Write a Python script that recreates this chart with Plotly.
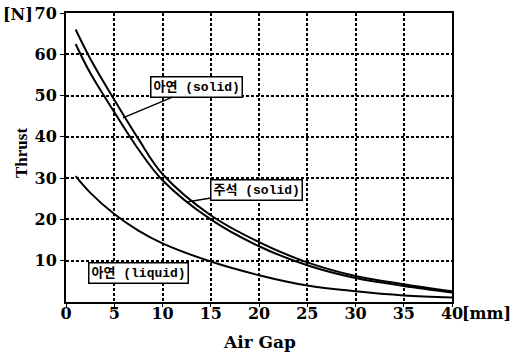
import plotly.graph_objects as go

# ---- data ----
air_gap_mm = [1, 2.5, 5, 7.5, 10, 15, 20, 25, 30, 35, 40]
zn_solid = [66, 59, 49, 39.5, 31, 21, 14.5, 9.6, 6.3, 4.3, 2.6]
sn_solid = [62.5, 55.5, 46, 37, 29.5, 20, 13.5, 8.9, 5.8, 3.9, 2.3]
zn_liquid = [30.5, 26.5, 21.3, 17.3, 14.2, 9.8, 6.5, 4.0, 2.6, 1.6, 1.1]

x_ticks = [0, 5, 10, 15, 20, 25, 30, 35, 40]
y_ticks = [10, 20, 30, 40, 50, 60, 70]

labels = ["아연 (solid)", "주석 (solid)", "아연 (liquid)"]

TICK_FONT = dict(family="DejaVu Serif", size=16, color="black", weight="bold")
LAB_FONT = dict(family="Liberation Mono, Noto Sans CJK KR", size=13, color="black", weight="bold")

L, R, T, B = 66, 62, 13, 54
PW, PH = 514 - L - R, 356 - T - B


def px_x(px):
    return (px - L) / PW


def px_y(py):
    return (356 - B - py) / PH


fig = go.Figure()
for ys, name in zip([zn_solid, sn_solid, zn_liquid], labels):
    fig.add_trace(go.Scatter(x=air_gap_mm, y=ys, mode="lines", name=name,
                             line=dict(color="black", width=2, shape="spline", smoothing=1.0),
                             showlegend=False))

axis_common = dict(showgrid=True, gridcolor="black", gridwidth=1.5, griddash="3px,2px",
                   showline=True, linecolor="black", linewidth=2, mirror=True,
                   tickcolor="black", tickfont=TICK_FONT, zeroline=False, automargin=False)

fig.update_layout(
    width=514, height=356,
    margin=dict(l=L, r=R, t=T, b=B),
    paper_bgcolor="white", plot_bgcolor="white",
    xaxis=dict(range=[0, 40], tickvals=x_ticks, ticktext=[str(v) for v in x_ticks],
               ticks="outside", ticklen=3, ticklabelstandoff=-7, **axis_common),
    yaxis=dict(range=[0, 70], tickvals=y_ticks, ticktext=[str(v) for v in y_ticks],
               ticks="outside", ticklen=4, **axis_common),
)

# unit labels and axis titles
fig.add_annotation(text="[N]", xref="paper", yref="paper", x=px_x(18), y=px_y(15),
                   showarrow=False, font=TICK_FONT, xanchor="center", yanchor="middle")
fig.add_annotation(text="[mm]", xref="paper", yref="paper", x=px_x(460), y=px_y(313),
                   showarrow=False, font=TICK_FONT, xanchor="left", yanchor="middle")
fig.add_annotation(text="Thrust", xref="paper", yref="paper", x=px_x(21), y=px_y(153),
                   showarrow=False, textangle=-90, xanchor="center", yanchor="middle",
                   font=dict(family="Liberation Serif", size=17, color="black", weight="bold"))
fig.add_annotation(text="Air Gap", xref="paper", yref="paper", x=px_x(259), y=px_y(342),
                   showarrow=False, xanchor="center", yanchor="middle",
                   font=dict(family="DejaVu Serif", size=17, color="black", weight="bold"))

# callout labels
box = dict(bordercolor="black", borderwidth=1.5, borderpad=2, bgcolor="white", font=LAB_FONT)
fig.add_annotation(text=labels[0], x=5.9, y=44.6, ax=74, ay=-31, showarrow=True,
                   arrowhead=0, arrowwidth=1.5, arrowcolor="black", **box)
fig.add_annotation(text=labels[1], x=12.5, y=24.2, ax=70, ay=-12, showarrow=True,
                   arrowhead=0, arrowwidth=1.5, arrowcolor="black", **box)
fig.add_annotation(text=labels[2], x=7.56, y=7.0, showarrow=False, **box)

fig.write_html("out.html")
